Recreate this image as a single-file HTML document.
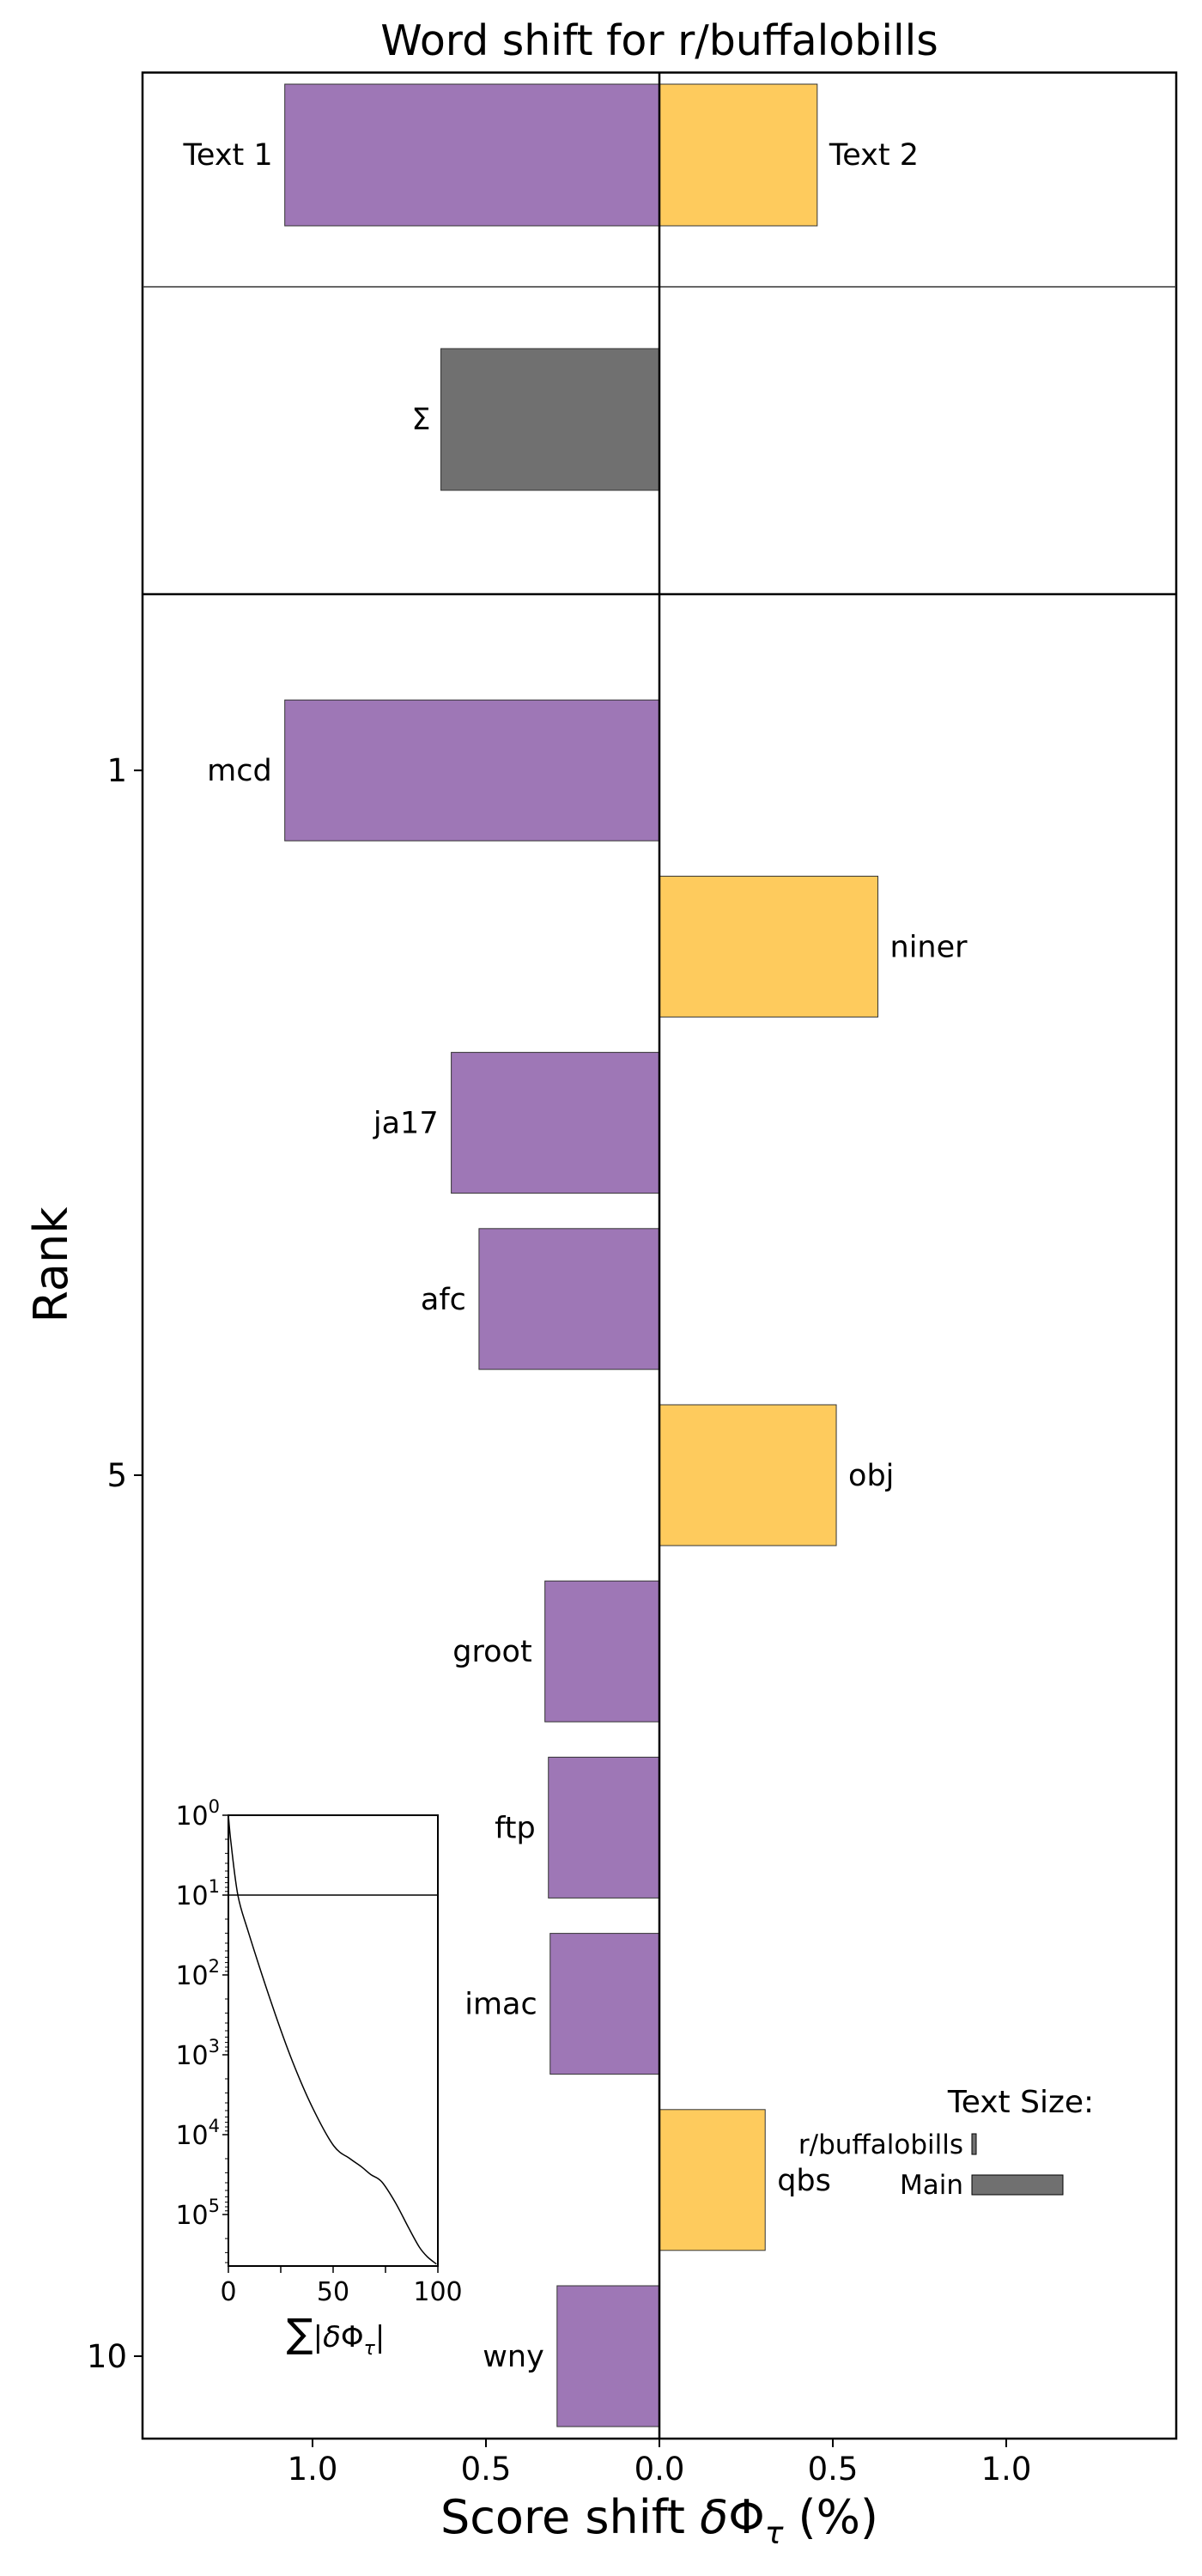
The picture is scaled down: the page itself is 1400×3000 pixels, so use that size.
<!DOCTYPE html>
<html><head><meta charset="utf-8"><style>
html,body{margin:0;padding:0;background:#fff;}
svg{display:block;font-family:"DejaVu Sans","Liberation Sans",sans-serif;}
</style></head><body>
<svg id="chart" width="1400" height="3000" viewBox="0 0 1400 3000" xmlns="http://www.w3.org/2000/svg">
<text x="768" y="64" font-size="49" text-anchor="middle">Word shift for r/buffalobills</text>
<g id="g"></g>
</svg>
<script>
const words = ["mcd","niner","ja17","afc","obj","groot","ftp","imac","qbs","wny"];
const shifts = [-1.08,0.63,-0.60,-0.52,0.51,-0.33,-0.32,-0.315,0.305,-0.295];
const totals = [-1.08,0.455];
const totalLabels = ["Text 1","Text 2"];
const sumShift = [-0.63];
const xTicks = [-1.0,-0.5,0,0.5,1.0];
const xTickLabels = ["1.0","0.5","0.0","0.5","1.0"];
const rankTicks = [1,5,10];
const cumX = [0,1.3,4.6,9.5,20.9,30.7,40.5,50.3,58,63.4,68,73.2,79.7,86.3,91.2,95,99.3];
const cumY = [0,0.36,1.01,1.46,2.38,3.09,3.68,4.14,4.3,4.4,4.5,4.59,4.85,5.18,5.41,5.53,5.62];
const insetYTicks = [0,1,2,3,4,5];
const insetXTicks = [0,50,100];

const NS="http://www.w3.org/2000/svg";
const g=document.getElementById('g');
function el(tag,attrs,parent){const e=document.createElementNS(NS,tag);for(const k in attrs)e.setAttribute(k,attrs[k]);(parent||g).appendChild(e);return e;}
const X0=768, PX=404, L=166, R=1370;
const xs=v=>X0+v*PX;
const RTOP=692, RPX=205.2;
const ys=r=>RTOP+r*RPX;
const PURP="#9e77b6", YEL="#fecb5d", GRAY="#707070";
const BH=164;

totals.forEach((v,i)=>{
  const x=Math.min(xs(0),xs(v)), w=Math.abs(xs(v)-xs(0));
  const r=el('rect',{x:x,y:98,width:w,height:165,fill:v<0?PURP:YEL,stroke:"#333","stroke-width":1});
  
  
  const t=el('text',{x:v<0?xs(v)-14:xs(v)+14,y:192,"font-size":35,"text-anchor":v<0?"end":"start"});
  t.textContent=totalLabels[i];
  
  
});
sumShift.forEach(v=>{
  const r=el('rect',{x:xs(v),y:406,width:xs(0)-xs(v),height:165,fill:GRAY,stroke:"#333","stroke-width":1});
  
  
  const t=el('text',{x:xs(v)-12,y:500,"font-size":35,"text-anchor":"end"});
  t.textContent="Σ";
  
  
});
words.forEach((w,i)=>{
  const v=shifts[i], c=ys(i+1);
  const x=Math.min(xs(0),xs(v)), wd=Math.abs(xs(v)-xs(0));
  const r=el('rect',{x:x,y:c-BH/2,width:wd,height:BH,fill:v<0?PURP:YEL,stroke:"#333","stroke-width":1});
  
  
  const t=el('text',{x:v<0?xs(v)-15:xs(v)+14,y:c+12,"font-size":35,"text-anchor":v<0?"end":"start"});
  t.textContent=w;
  
  
});
const fr=el('rect',{x:L,y:84.5,width:R-L,height:2840-84.5,fill:"none",stroke:"#000","stroke-width":2.5});


el('line',{x1:L,x2:R,y1:334,y2:334,stroke:"#333","stroke-width":1.5});
el('line',{x1:L,x2:R,y1:692,y2:692,stroke:"#000","stroke-width":2.5});
const zl=el('line',{x1:X0,x2:X0,y1:84.5,y2:2840,stroke:"#000","stroke-width":2.5});


xTicks.forEach((v,i)=>{
  el('line',{x1:xs(v),x2:xs(v),y1:2840,y2:2850,stroke:"#000","stroke-width":2});
  const t=el('text',{x:xs(v),y:2888,"font-size":37,"text-anchor":"middle"});
  t.textContent=xTickLabels[i];
  
  
});
rankTicks.forEach(r=>{
  el('line',{x1:L-10,x2:L,y1:ys(r),y2:ys(r),stroke:"#000","stroke-width":2});
  const t=el('text',{x:L-18,y:ys(r)+13,"font-size":37,"text-anchor":"end"});
  t.textContent=r;
  
  
});
const xl=el('text',{x:X0,y:2950,"font-size":54,"text-anchor":"middle"});
xl.innerHTML='Score shift <tspan font-style="italic">δ</tspan>Φ<tspan font-style="italic" font-size="36" dy="12">τ</tspan><tspan dy="-12"> (%)</tspan>';


const yl=el('text',{x:0,y:0,"font-size":54,"text-anchor":"middle",transform:"translate(78,1473) rotate(-90)"});
yl.textContent="Rank";



const IL=266, IR=510, IT=2114, IB=2639, DEC=93;
const ix=v=>IL+v/100*(IR-IL);
const iy=d=>IT+d*DEC;
const ib=el('rect',{x:IL,y:IT,width:IR-IL,height:IB-IT,fill:"#fff",stroke:"#000","stroke-width":2});


el('line',{x1:IL,x2:IR,y1:iy(1),y2:iy(1),stroke:"#000","stroke-width":1.5});
const P=cumX.map((v,i)=>[ix(v),iy(cumY[i])]);
let d='M'+P[0][0].toFixed(1)+','+P[0][1].toFixed(1);
for(let i=0;i<P.length-1;i++){
  const p0=P[Math.max(0,i-1)],p1=P[i],p2=P[i+1],p3=P[Math.min(P.length-1,i+2)];
  const c1=[p1[0]+(p2[0]-p0[0])/6,p1[1]+(p2[1]-p0[1])/6];
  const c2=[p2[0]-(p3[0]-p1[0])/6,p2[1]-(p3[1]-p1[1])/6];
  d+='C'+c1.map(n=>n.toFixed(1)).join(',')+' '+c2.map(n=>n.toFixed(1)).join(',')+' '+p2.map(n=>n.toFixed(1)).join(',');
}
const cp=el('path',{d:d,fill:"none",stroke:"#000","stroke-width":1.5});


insetYTicks.forEach(k=>{
  el('line',{x1:IL-7,x2:IL,y1:iy(k),y2:iy(k),stroke:"#000","stroke-width":1.5});
  for(let m=2;m<10;m++){const yy=iy(k+Math.log10(m));if(yy<IB)el('line',{x1:IL-4,x2:IL,y1:yy,y2:yy,stroke:"#000","stroke-width":1});}
  const t=el('text',{x:IL-10,y:iy(k)+11,"font-size":30,"text-anchor":"end"});
  t.innerHTML='10<tspan dy="-14" font-size="21">'+k+'</tspan>';
  
  
});
[0,25,50,75,100].forEach(v=>el('line',{x1:ix(v),x2:ix(v),y1:IB,y2:IB+8,stroke:"#000","stroke-width":1.5}));
insetXTicks.forEach(v=>{
  const t=el('text',{x:ix(v),y:IB+40,"font-size":30,"text-anchor":"middle"});
  t.textContent=v;
  
  
});
const it=el('text',{x:391,y:2733,"font-size":34,"text-anchor":"middle"});
it.innerHTML='<tspan font-size="46">∑</tspan>|<tspan font-style="italic">δ</tspan>Φ<tspan font-style="italic" font-size="22" dy="9">τ</tspan><tspan dy="-9">|</tspan>';



const lt=el('text',{x:1189,y:2460,"font-size":36,"text-anchor":"middle"});
lt.textContent="Text Size:";


const l1=el('text',{x:1122,y:2508,"font-size":31,"text-anchor":"end"});
l1.textContent="r/buffalobills";


const b1=el('rect',{x:1132,y:2485,width:5,height:24,fill:GRAY,stroke:"#000","stroke-width":1});


const l2=el('text',{x:1122,y:2555,"font-size":31,"text-anchor":"end"});
l2.textContent="Main";


const b2=el('rect',{x:1132,y:2533,width:106,height:23,fill:GRAY,stroke:"#000","stroke-width":1});


</script>
</body></html>
